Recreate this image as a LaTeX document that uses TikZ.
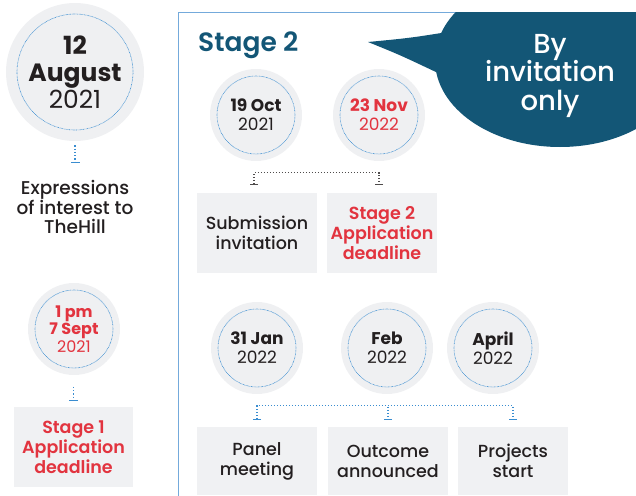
\documentclass[tikz,border=0pt]{standalone}
\usepackage{fontspec}
\setmainfont{Poppins}
\newfontfamily\pmed{Poppins}[UprightFont=*-Medium,BoldFont=*-SemiBold]
\usetikzlibrary{arrows.meta}
\definecolor{circfill}{HTML}{EFF0F2}
\definecolor{boxfill}{HTML}{F0F1F3}
\definecolor{ringc}{HTML}{3A8DD0}
\definecolor{redc}{HTML}{E2343F}
\definecolor{tealc}{HTML}{135676}
\definecolor{framec}{HTML}{74AADB}
\definecolor{ink}{HTML}{231F20}
\begin{document}
\begin{tikzpicture}[x=1pt,y=-1pt,
    datec/.style 2 args={circle,fill=circfill,minimum size=#1,inner sep=0pt,align=center,text=ink,
        path picture={\draw[ringc,line width=0.6pt,dash pattern=on 0.7pt off 0.7pt]
            (path picture bounding box.center) circle (#2);}},
    small/.style={font=\fontsize{17}{19}\selectfont},
    boxn/.style={fill=boxfill,inner sep=0pt,align=center,text=ink,font=\pmed\fontsize{17.5}{20}\selectfont},
    tick/.style={ringc,line width=1.3pt,dash pattern=on 1.3pt off 2pt,-{Bar[width=9pt]}},
    brk/.style={ink!80,line width=1.3pt,dash pattern=on 1.3pt off 1.7pt,{Bar[width=8pt]}-{Bar[width=8pt]}}]
    \useasboundingbox (0,0) rectangle (636,495);

    % left column: stage 1
    \node [datec={138pt}{58pt},font=\fontsize{25}{27}\selectfont] (aug) at (75,72)
        {\textbf{12}\\\textbf{August}\\2021};
    \node [align=center,text=ink,inner sep=0pt,font=\pmed\fontsize{18.5}{19.5}\selectfont] (eoi) at (75,207)
        {Expressions\\of interest to\\TheHill};
    \draw [tick] ([yshift=-4pt]aug.south) -- ([yshift=17pt]eoi.north);

    \node [datec={92pt}{39pt},text=redc,font=\fontsize{16}{17.5}\selectfont] (sept) at (74,329)
        {\textbf{1 pm}\\\textbf{7 Sept}\\2021};
    \node [boxn,text=redc,minimum width=119pt,minimum height=80pt] (dl1) at (73.5,447)
        {\bfseries Stage 1\\\bfseries Application\\\bfseries deadline};
    \draw [tick] ([yshift=20pt]dl1.north) -- ([yshift=6pt]dl1.north);

    % stage 2 frame and callout
    \draw [framec,line width=1pt] (178,500) -- (178,13) -- (640,13);
    \begin{scope}
        \clip (178,13) rectangle (640,500);
        \fill [tealc] (560,60) ellipse (125 and 87);
        \fill [tealc] (368,42) .. controls (410,38) .. (454,31) -- (438,73) .. controls (400,55) .. cycle;
    \end{scope}
    \node [align=center,text=white,font=\pmed\fontsize{27.5}{28.5}\selectfont] (inv) at (550,76)
        {By\\invitation\\only};
    \node [anchor=west,text=tealc,inner sep=0pt,font=\bfseries\pmed\fontsize{26.5}{26.5}\selectfont] (st2) at (198,45)
        {Stage 2};

    \node [datec={92pt}{39pt},small] (oct) at (256,115) {\textbf{19 Oct}\\2021};
    \node [datec={92pt}{39pt},small,text=redc] (nov) at (379,115) {\textbf{23 Nov}\\2022};
    \node [boxn,minimum width=120pt,minimum height=80pt] (sub) at (257,233) {Submission\\invitation};
    \node [boxn,text=redc,minimum width=110pt,minimum height=80pt] (dl2) at (382,233)
        {\bfseries Stage 2\\\bfseries Application\\\bfseries deadline};
    \draw [brk] ([xshift=-3pt,yshift=8pt]sub.north) -- ++(0,-12) -| ([xshift=-3pt,yshift=8pt]dl2.north);

    \node [datec={92pt}{39pt},small] (jan) at (257,348) {\textbf{31 Jan}\\2022};
    \node [datec={92pt}{39pt},small] (feb) at (387,348) {\textbf{Feb}\\2022};
    \node [datec={92pt}{39pt},small] (apr) at (493,348) {\textbf{April}\\2022};
    \node [boxn,minimum width=120pt,minimum height=68pt] (pan) at (257,461) {Panel\\meeting};
    \node [boxn,minimum width=120pt,minimum height=68pt] (out) at (388,461) {Outcome\\announced};
    \node [boxn,minimum width=110pt,minimum height=68pt] (prj) at (513,461) {Projects\\start};
    \draw [brk,ringc] ([yshift=7pt]pan.north) -- ++(0,-14) -| ([yshift=7pt]prj.north);
    \draw [brk,ringc,{Bar[width=0pt]}-{Bar[width=8pt]}] ([yshift=21pt]out.north) -- ([yshift=7pt]out.north);
\end{tikzpicture}
\end{document}
